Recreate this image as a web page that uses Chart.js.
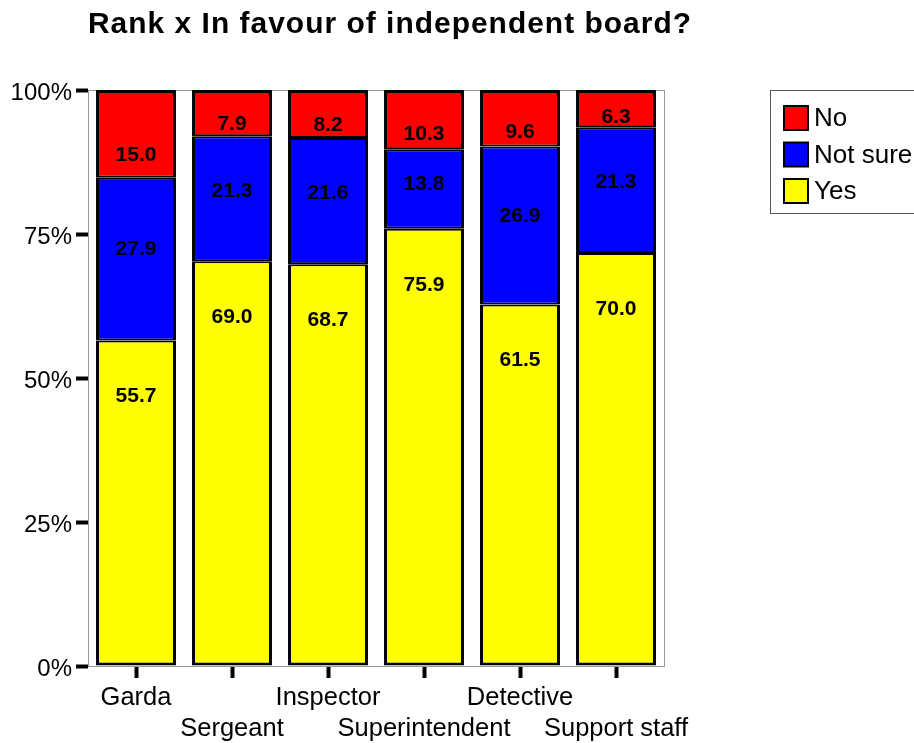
<!DOCTYPE html>
<html>
<head>
<meta charset="utf-8">
<script src="https://cdn.jsdelivr.net/npm/chart.js@4/dist/chart.umd.min.js"></script>
<style>
  html, body { margin: 0; padding: 0; background: #fff; }
  #wrap { width: 914px; height: 743px; position: relative; }
</style>
</head>
<body>
<div id="wrap"><canvas id="chart" width="914" height="743"></canvas></div>
<script>
const titleText = "Rank x In favour of independent board?";
const ranks = ["Garda", "Sergeant", "Inspector", "Superintendent", "Detective", "Support staff"];
const yesValues = [55.7, 69.0, 68.7, 75.9, 61.5, 70.0];
const notSureValues = [27.9, 21.3, 21.6, 13.8, 26.9, 21.3];
const noValues = [15.0, 7.9, 8.2, 10.3, 9.6, 6.3];
const yTicks = [0, 25, 50, 75, 100];

const FONT = "'Liberation Sans', Arial, sans-serif";

// bars are stretched to 100% of answers given; labels keep the raw figures
const totals = ranks.map((_, i) => yesValues[i] + notSureValues[i] + noValues[i]);
const share = arr => arr.map((v, i) => v / totals[i] * 100);

// inner edges thinner so the shared line between segments matches the outline
const series = [
  { label: "Yes", raw: yesValues, color: "#ffff00", border: { top: 2, bottom: 3, left: 3, right: 3 },
    pos: (top, h) => top + 56 },
  { label: "Not sure", raw: notSureValues, color: "#0000ff", border: { top: 2, bottom: 2, left: 3, right: 3 },
    pos: (top, h) => top + h * 0.44 },
  { label: "No", raw: noValues, color: "#ff0000", border: { top: 3, bottom: 2, left: 3, right: 3 },
    pos: (top, h) => top + h * 0.74 }
];

const extras = {
  id: "extras",
  beforeDatasetsDraw(chart) {
    const { ctx, chartArea: a } = chart;
    ctx.save();
    ctx.strokeStyle = "#999";
    ctx.lineWidth = 1;
    ctx.strokeRect(a.left + 0.5, a.top + 0.5, a.right - a.left, a.bottom - a.top);
    ctx.restore();
  },
  afterDatasetsDraw(chart) {
    const ctx = chart.ctx;
    ctx.save();
    ctx.font = "bold 21px " + FONT;
    ctx.fillStyle = "#000";
    ctx.textAlign = "center";
    ctx.textBaseline = "middle";
    chart.data.datasets.forEach((ds, di) => {
      const meta = chart.getDatasetMeta(di);
      meta.data.forEach((bar, i) => {
        const top = Math.min(bar.y, bar.base);
        const h = Math.abs(bar.base - bar.y);
        ctx.fillText(series[di].raw[i].toFixed(1), bar.x, series[di].pos(top, h));
      });
    });
    ctx.restore();
  },
  afterDraw(chart) {
    const ctx = chart.ctx;
    ctx.save();
    // title: a bit of letter spacing, then fitted to the original width
    ctx.font = "bold 29px " + FONT;
    ctx.letterSpacing = "1px";
    ctx.fillStyle = "#000";
    ctx.textAlign = "center";
    ctx.textBaseline = "middle";
    const sx = 604 / ctx.measureText(titleText).width;
    ctx.save();
    ctx.translate(390, 25);
    ctx.scale(sx, 1);
    ctx.fillText(titleText, 0, 0);
    ctx.restore();
    ctx.letterSpacing = "0px";

    // legend box, top series first
    ctx.strokeStyle = "#555";
    ctx.lineWidth = 1;
    ctx.strokeRect(770.5, 90.5, 150, 123);
    ctx.font = "26px " + FONT;
    ctx.textAlign = "left";
    const rows = [...chart.data.datasets].reverse();
    rows.forEach((ds, i) => {
      const cy = 118 + i * 36.5;
      ctx.fillStyle = ds.backgroundColor;
      ctx.fillRect(784, cy - 12, 24, 24);
      ctx.strokeStyle = "#000";
      ctx.lineWidth = 2;
      ctx.strokeRect(784, cy - 12, 24, 24);
      ctx.fillStyle = "#000";
      ctx.fillText(ds.label, 814, cy + 1);
    });
    ctx.restore();
  }
};

new Chart(document.getElementById("chart"), {
  type: "bar",
  data: {
    labels: ranks,
    datasets: series.map(s => ({
      label: s.label,
      data: share(s.raw),
      backgroundColor: s.color,
      borderColor: "#000",
      borderWidth: s.border,
      borderSkipped: false,
      inflateAmount: 0,
      barPercentage: 0.833,
      categoryPercentage: 1
    }))
  },
  options: {
    responsive: false,
    animation: false,
    layout: { padding: { left: 0, right: 250, top: 90, bottom: 0 } },
    plugins: {
      legend: { display: false },
      title: { display: false },
      tooltip: { enabled: false }
    },
    scales: {
      x: {
        stacked: true,
        afterFit: s => { s.height = 77; },
        grid: {
          offset: false,
          drawOnChartArea: false,
          tickLength: 12,
          tickWidth: 4,
          tickColor: "#000"
        },
        border: { color: "#999", width: 1 },
        ticks: {
          color: "#000",
          padding: 4,
          maxRotation: 0,
          autoSkip: false,
          font: { family: FONT, size: 25.5, lineHeight: 1.22 },
          callback: (v, i) => i % 2 === 0 ? [ranks[i]] : ["", ranks[i]]
        }
      },
      y: {
        stacked: true,
        min: 0,
        max: 100,
        afterFit: s => { s.width = 88; },
        afterBuildTicks: s => { s.ticks = yTicks.map(v => ({ value: v })); },
        grid: {
          drawOnChartArea: false,
          tickLength: 12,
          tickWidth: 4,
          tickColor: "#000"
        },
        border: { color: "#999", width: 1 },
        ticks: {
          color: "#000",
          padding: 4,
          labelOffset: 3,
          font: { family: FONT, size: 24 },
          callback: v => v + "%"
        }
      }
    }
  },
  plugins: [extras]
});
</script>
</body>
</html>
